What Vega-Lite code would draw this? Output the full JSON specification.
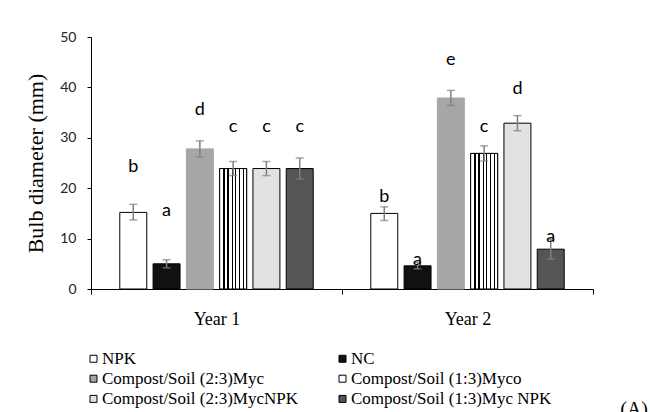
{
  "$schema": "https://vega.github.io/schema/vega-lite/v6.json",
  "autosize": {"type": "none"},
  "width": 502,
  "height": 252,
  "padding": {"left": 91, "top": 37, "right": 57, "bottom": 123},
  "background": "white",
  "config": {
    "view": {"stroke": null},
    "axis": {"grid": false}
  },
  "title": {
    "text": "(A)",
    "orient": "bottom",
    "anchor": "end",
    "frame": "group",
    "font": "Liberation Serif",
    "fontSize": 20,
    "fontWeight": "normal",
    "color": "#000000",
    "baseline": "top",
    "dx": 55,
    "dy": -17,
    "offset": 10
  },
  "data": {
    "values": [
      {"year": "Year 1", "trt": "NPK", "mean": 15.2, "lo": 13.7, "hi": 16.8, "letter": "b", "letter_at": 24.3},
      {"year": "Year 1", "trt": "NC", "mean": 5.0, "lo": 4.2, "hi": 5.8, "letter": "a", "letter_at": 15.5},
      {"year": "Year 1", "trt": "Compost/Soil (2:3)Myc", "mean": 27.8, "lo": 26.2, "hi": 29.4, "letter": "d", "letter_at": 35.5},
      {"year": "Year 1", "trt": "Compost/Soil (1:3)Myco", "mean": 23.9, "lo": 22.5, "hi": 25.3, "letter": "c", "letter_at": 32.2},
      {"year": "Year 1", "trt": "Compost/Soil (2:3)MycNPK", "mean": 23.9, "lo": 22.5, "hi": 25.3, "letter": "c", "letter_at": 32.2},
      {"year": "Year 1", "trt": "Compost/Soil (1:3)Myc NPK", "mean": 23.9, "lo": 21.8, "hi": 26.0, "letter": "c", "letter_at": 32.2},
      {"year": "Year 2", "trt": "NPK", "mean": 15.0, "lo": 13.6, "hi": 16.3, "letter": "b", "letter_at": 18.3},
      {"year": "Year 2", "trt": "NC", "mean": 4.6, "lo": 4.0, "hi": 5.3, "letter": "a", "letter_at": 5.8},
      {"year": "Year 2", "trt": "Compost/Soil (2:3)Myc", "mean": 37.9, "lo": 36.4, "hi": 39.4, "letter": "e", "letter_at": 45.4},
      {"year": "Year 2", "trt": "Compost/Soil (1:3)Myco", "mean": 26.9, "lo": 25.4, "hi": 28.4, "letter": "c", "letter_at": 32.2},
      {"year": "Year 2", "trt": "Compost/Soil (2:3)MycNPK", "mean": 32.9, "lo": 31.4, "hi": 34.4, "letter": "d", "letter_at": 39.6},
      {"year": "Year 2", "trt": "Compost/Soil (1:3)Myc NPK", "mean": 7.9, "lo": 5.9, "hi": 9.9, "letter": "a", "letter_at": 10.3}
    ]
  },
  "encoding": {
    "x": {
      "field": "year",
      "type": "nominal",
      "scale": {"paddingInner": 0, "paddingOuter": 0},
      "axis": {
        "title": null,
        "labelAngle": 0,
        "labelFont": "Liberation Serif",
        "labelFontSize": 18,
        "labelColor": "#000000",
        "labelPadding": 16,
        "tickBand": "extent",
        "tickSize": 5,
        "tickColor": "#000000",
        "domainColor": "#000000",
        "domainWidth": 1,
        "tickWidth": 1
      }
    },
    "xOffset": {
      "field": "trt",
      "type": "nominal",
      "scale": {
        "domain": ["NPK", "NC", "Compost/Soil (2:3)Myc", "Compost/Soil (1:3)Myco", "Compost/Soil (2:3)MycNPK", "Compost/Soil (1:3)Myc NPK"],
        "paddingInner": 0.19,
        "paddingOuter": 0.865
      }
    }
  },
  "layer": [
    {
      "mark": {"type": "bar", "strokeWidth": 1},
      "encoding": {
        "y": {
          "field": "mean",
          "type": "quantitative",
          "scale": {"domain": [0, 50], "nice": false},
          "axis": {
            "title": "Bulb diameter (mm)",
            "titleFont": "Liberation Serif",
            "titleFontSize": 22,
            "titleFontWeight": "normal",
            "titleColor": "#000000",
            "titlePadding": 12,
            "values": [0, 10, 20, 30, 40, 50],
            "labelFont": "Lato",
            "labelFontSize": 14,
            "labelColor": "#222222",
            "labelPadding": 11,
            "tickSize": 4,
            "tickColor": "#000000",
            "domainColor": "#000000",
            "domainWidth": 1,
            "tickWidth": 1
          }
        },
        "fill": {
          "field": "trt",
          "type": "nominal",
          "scale": {
            "domain": ["NPK", "NC", "Compost/Soil (2:3)Myc", "Compost/Soil (1:3)Myco", "Compost/Soil (2:3)MycNPK", "Compost/Soil (1:3)Myc NPK"],
            "range": ["#ffffff", "#111111", "#a6a6a6", "#ffffff", "#e2e2e2", "#555555"]
          },
          "legend": {
            "title": null,
            "orient": "none",
            "direction": "horizontal",
            "legendX": -6,
            "legendY": 313,
            "columns": 2,
            "columnPadding": 36,
            "rowPadding": 2.2,
            "padding": 0,
            "symbolType": "square",
            "symbolSize": 49,
            "symbolStrokeColor": "#000000",
            "symbolStrokeWidth": 1,
            "labelFont": "Liberation Serif",
            "labelFontSize": 17,
            "labelColor": "#000000",
            "labelOffset": 0,
            "labelLimit": 400
          }
        },
        "stroke": {
          "condition": {"test": "datum.trt === 'Compost/Soil (2:3)Myc'", "value": "#a6a6a6"},
          "value": "#000000"
        }
      }
    },
    {
      "transform": [{"filter": "datum.trt === 'Compost/Soil (1:3)Myco'"}],
      "mark": {"type": "bar", "strokeWidth": 1, "stroke": "#000000"},
      "encoding": {
        "y": {"field": "mean", "type": "quantitative"},
        "fill": {
          "value": {
            "gradient": "linear",
            "x1": 0, "y1": 0, "x2": 1, "y2": 0,
            "stops": [
              {"offset": 0, "color": "#ffffff"},
              {"offset": 0.14, "color": "#ffffff"},
              {"offset": 0.14, "color": "#000000"},
              {"offset": 0.18, "color": "#000000"},
              {"offset": 0.18, "color": "#ffffff"},
              {"offset": 0.29, "color": "#ffffff"},
              {"offset": 0.29, "color": "#000000"},
              {"offset": 0.33, "color": "#000000"},
              {"offset": 0.33, "color": "#ffffff"},
              {"offset": 0.44, "color": "#ffffff"},
              {"offset": 0.44, "color": "#000000"},
              {"offset": 0.48, "color": "#000000"},
              {"offset": 0.48, "color": "#ffffff"},
              {"offset": 0.58, "color": "#ffffff"},
              {"offset": 0.58, "color": "#000000"},
              {"offset": 0.62, "color": "#000000"},
              {"offset": 0.62, "color": "#ffffff"},
              {"offset": 0.72, "color": "#ffffff"},
              {"offset": 0.72, "color": "#000000"},
              {"offset": 0.76, "color": "#000000"},
              {"offset": 0.76, "color": "#ffffff"},
              {"offset": 0.86, "color": "#ffffff"},
              {"offset": 0.86, "color": "#000000"},
              {"offset": 0.90, "color": "#000000"},
              {"offset": 0.90, "color": "#ffffff"},
              {"offset": 1, "color": "#ffffff"}
            ]
          }
        }
      }
    },
    {
      "mark": {"type": "rule", "color": "#808080", "strokeWidth": 1.5},
      "encoding": {
        "y": {"field": "lo", "type": "quantitative"},
        "y2": {"field": "hi"}
      }
    },
    {
      "mark": {"type": "tick", "orient": "horizontal", "color": "#808080", "size": 8, "thickness": 1.5},
      "encoding": {"y": {"field": "lo", "type": "quantitative"}}
    },
    {
      "mark": {"type": "tick", "orient": "horizontal", "color": "#808080", "size": 8, "thickness": 1.5},
      "encoding": {"y": {"field": "hi", "type": "quantitative"}}
    },
    {
      "mark": {"type": "text", "font": "Lato", "fontSize": 18, "color": "#000000", "baseline": "middle", "align": "center"},
      "encoding": {
        "y": {"field": "letter_at", "type": "quantitative"},
        "text": {"field": "letter"}
      }
    }
  ]
}
